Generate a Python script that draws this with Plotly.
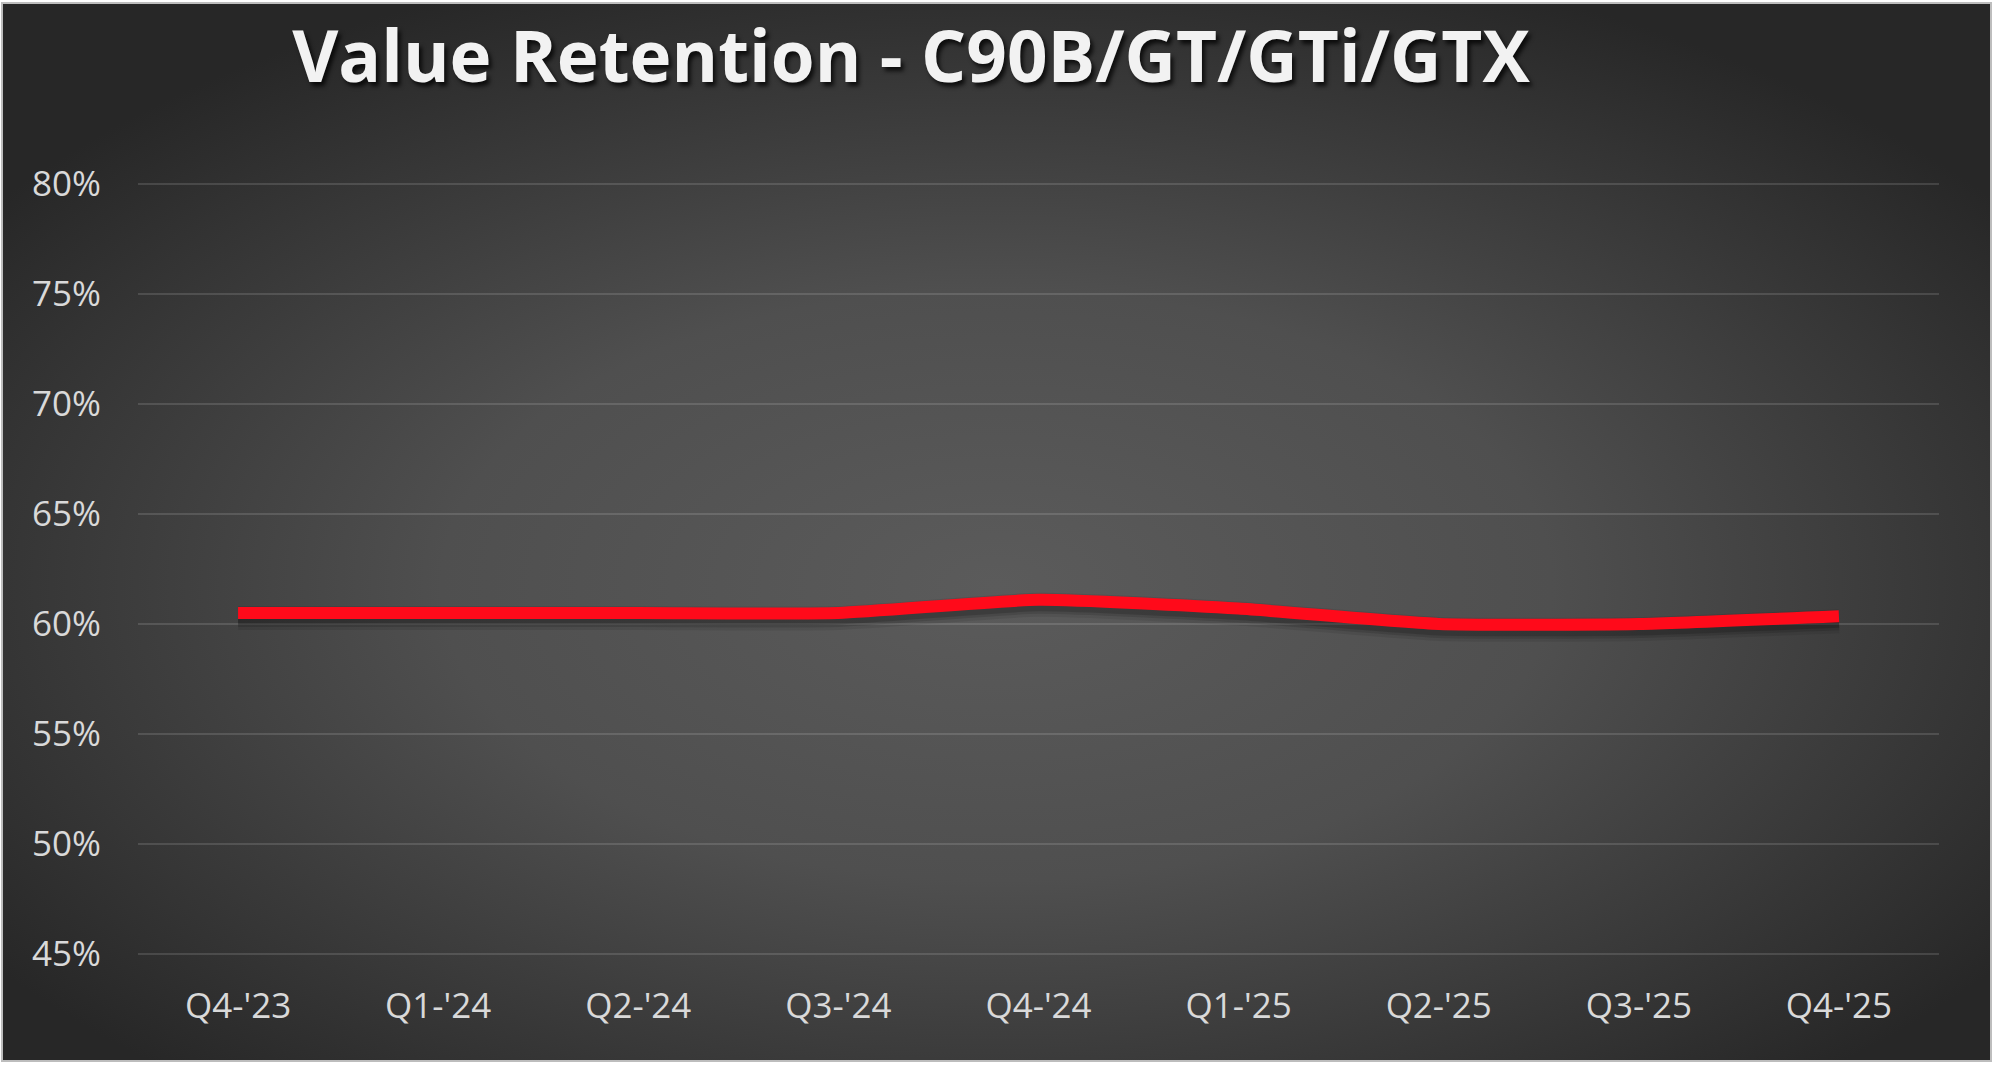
import base64
import plotly.graph_objects as go

# ---- data ----
categories = ["Q4-'23", "Q1-'24", "Q2-'24", "Q3-'24", "Q4-'24", "Q1-'25", "Q2-'25", "Q3-'25", "Q4-'25"]
retention = [0.605, 0.605, 0.605, 0.605, 0.611, 0.607, 0.600, 0.600, 0.6035]
y_ticks = [0.45, 0.50, 0.55, 0.60, 0.65, 0.70, 0.75, 0.80]
y_tick_labels = ["45%", "50%", "55%", "60%", "65%", "70%", "75%", "80%"]
title_text = "Value Retention - C90B/GT/GTi/GTX"

W, H = 1998, 1067
ML, MR, MT, MB = 138, 59, 162, 91
plot_w = W - ML - MR
plot_h = H - MT - MB
y_range = [0.44, 0.81]
px_per_unit = plot_h / (y_range[1] - y_range[0])
shadow_shift = 5 / px_per_unit  # shadow drawn ~5px lower

# background: radial gradient panel with light border, drawn as an SVG image
svg = f'''<svg xmlns="http://www.w3.org/2000/svg" width="{W}" height="{H}" viewBox="0 0 {W} {H}">
<defs><radialGradient id="g" cx="0.5" cy="0.55" r="0.62" gradientUnits="objectBoundingBox">
<stop offset="0" stop-color="#5b5b5b"/><stop offset="0.45" stop-color="#4f4f4f"/>
<stop offset="1" stop-color="#272727"/></radialGradient></defs>
<rect x="0" y="0" width="{W}" height="{H}" fill="#ffffff"/>
<rect x="2" y="3" width="1989" height="1058" fill="url(#g)" stroke="#bdbdbd" stroke-width="2"/>
</svg>'''
src = "data:image/svg+xml;base64," + base64.b64encode(svg.encode()).decode()

fig = go.Figure()
# soft shadow (base axis, shifted range so it appears a few px lower)
for w, a in [(24, 0.08), (18, 0.12), (13, 0.16)]:
    fig.add_trace(go.Scatter(
        x=categories, y=retention, mode="lines", yaxis="y",
        line=dict(color=f"rgba(0,0,0,{a})", width=w, shape="spline", smoothing=0.5),
        hoverinfo="skip", showlegend=False))
# main line
fig.add_trace(go.Scatter(
    x=categories, y=retention, mode="lines", yaxis="y2",
    line=dict(color="#FF0A1A", width=12, shape="spline", smoothing=0.5),
    showlegend=False))

fig.update_layout(
    width=W, height=H,
    margin=dict(l=ML, r=MR, t=MT, b=MB),
    paper_bgcolor="#ffffff", plot_bgcolor="rgba(0,0,0,0)",
    images=[dict(source=src, xref="paper", yref="paper",
                 x=-ML / plot_w, y=1 + MT / plot_h,
                 sizex=W / plot_w, sizey=H / plot_h,
                 xanchor="left", yanchor="top", sizing="stretch", layer="below")],
    title=dict(text=title_text, x=911 / W, xref="container", xanchor="center",
               y=1 - 57 / H, yref="container", yanchor="middle",
               font=dict(family="Open Sans", size=71, color="#f2f2f2", weight="bold",
                         shadow="3px 4px 4px rgba(0,0,0,0.75)")),
    xaxis=dict(type="category", range=[-0.5, len(categories) - 0.5],
               showgrid=False, zeroline=False, showline=False, ticks="",
               tickfont=dict(family="Open Sans", size=35, color="#d9d9d9"),
               ticklabelstandoff=6),
    yaxis=dict(range=[y_range[0] + shadow_shift, y_range[1] + shadow_shift],
               tickvals=[v + shadow_shift for v in y_ticks], ticktext=y_tick_labels,
               showgrid=True, gridcolor="rgba(255,255,255,0.13)", gridwidth=2,
               zeroline=False, showline=False, ticks="",
               tickfont=dict(family="Open Sans", size=35, color="#d9d9d9"),
               ticklabelstandoff=36),
    yaxis2=dict(range=y_range, overlaying="y", visible=False),
)

fig.write_html("out.html")
